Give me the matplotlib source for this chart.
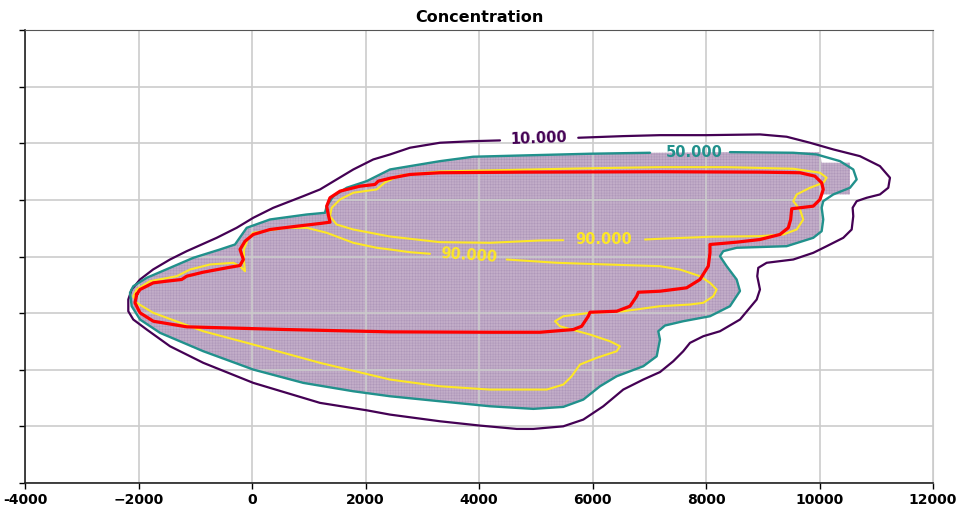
import numpy as np
import matplotlib
matplotlib.use("Agg")
import matplotlib.pyplot as plt

plt.rcParams['hatch.linewidth'] = 0.3

# contour paths (data units), label gaps left open
lvl10_x = [5749, 6542, 7189, 8012, 8951, 9421, 9832, 10243, 10713, 11065, 11242, 11212, 11065, 10831, 10655,
           10584, 10595, 10567, 10419, 10126, 9890, 9538, 9069, 8921, 8903, 8951, 8893, 8599, 8246, 7952,
           7718, 7599, 7423, 7189, 6895, 6542, 6190, 5838, 5485, 4957, 4664, 4017, 3313, 2432, 2021,
           1198, 23, -858, -1445, -1855, -2092, -2180, -2180, -2120, -1973, -1744, -1445, -1151, -622, -270,
           23, 375, 904, 1198, 1492, 1785, 2137, 2432, 2784, 3313, 3899, 4370]
lvl10_y = [2097, 2126, 2143, 2143, 2156, 2115, 2009, 1891, 1772, 1596, 1391, 1214, 1096, 1037, 977,
           861, 712, 477, 330, 182, 65, -53, -111, -200, -348, -583, -760, -1113, -1320, -1408,
           -1525, -1673, -1850, -2041, -2173, -2350, -2645, -2880, -2999, -3045, -3045, -2986, -2910, -2792, -2716,
           -2585, -2232, -1878, -1585, -1290, -1113, -967, -760, -583, -406, -230, -53, 94, 330, 507,
           684, 860, 1066, 1184, 1361, 1537, 1714, 1802, 1921, 2009, 2037, 2050]

lvl50_x = [8422, 9538, 9950, 10361, 10595, 10655, 10537, 10243, 10066, 10038, 10066, 10038, 9890, 9421, 8540,
           8304, 8246, 8364, 8540, 8599, 8422, 8070, 7599, 7277, 7159, 7189, 7131, 6895, 6426, 6132,
           5838, 5485, 4957, 4194, 3313, 2432, 1785, 904, 23, -858, -1621, -1973, -2120, -2150, -2092,
           -1855, -1445, -1034, -564, -300, -93, 317, 964, 1286, 1316, 1433, 1669, 2021, 2432, 2784,
           3313, 3899, 4780, 5956, 7013]
lvl50_y = [1843, 1832, 1802, 1684, 1537, 1361, 1214, 1096, 977, 861, 654, 447, 330, 182, 154,
           94, 5, -171, -406, -610, -878, -1055, -1143, -1219, -1320, -1467, -1762, -1938, -2115, -2292,
           -2527, -2656, -2691, -2645, -2557, -2468, -2380, -2232, -1997, -1673, -1348, -1113, -878, -641, -525,
           -376, -200, -23, 124, 212, 507, 654, 742, 772, 889, 1066, 1214, 1331, 1537, 1596,
           1684, 1762, 1785, 1815, 1832]

# right edge of the shaded cells, then it follows the 50 contour
shade_edge_x = [8422, 10008, 10038, 10537, 10537, 10038, 10038]
shade_edge_y = [1843, 1843, 1655, 1655, 1096, 1096, 447]

lvl90a_x = [4488, 5369, 6250, 7189, 7541, 7894, 8070, 8188, 8128, 7952, 7718, 7189, 6542, 5956, 5485,
            5339, 5427, 5633, 5956, 6308, 6484, 6426, 6074, 5779, 5633, 5485, 5193, 4194, 3313, 2432,
            1198, 23, -858, -1739, -2032, -2092, -2032, -1797, -1327, -1092, -740, -329, -211, -123, -141,
            -141, -70, 23, 611, 964, 1316, 1785, 2197, 2432, 2784, 3136]
lvl90a_y = [-53, -111, -141, -171, -230, -348, -465, -583, -702, -818, -848, -878, -967, -995, -1055,
            -1143, -1232, -1290, -1378, -1497, -1585, -1673, -1790, -1908, -2115, -2262, -2350, -2350, -2292, -2173,
            -1878, -1555, -1320, -995, -818, -702, -583, -436, -348, -230, -141, -111, -171, -260, -88,
            124, 318, 419, 507, 507, 419, 242, 154, 124, 76, 48]

lvl90b_x = [6925, 7189, 8070, 8951, 9362, 9598, 9714, 9656, 9538, 9598, 9832, 10066, 10126, 10008, 9538,
            8364, 7189, 5779, 4370, 3313, 2608, 2343, 2197, 1785, 1551, 1404, 1374, 1492, 1785, 2432,
            3313, 4194, 5075, 5485]
lvl90b_y = [300, 313, 348, 359, 389, 477, 654, 830, 977, 1096, 1214, 1302, 1391, 1479, 1550,
            1578, 1578, 1555, 1525, 1502, 1431, 1308, 1184, 1126, 1007, 861, 712, 565, 477, 353,
            253, 242, 283, 288]

red_x = [-2032, -1973, -1739, -1503, -1239, -1151, -858, -446, -211, -153, -211, -123, 23, 317, 788,
         1198, 1374, 1344, 1316, 1374, 1551, 1903, 2167, 2225, 2432, 2784, 3313, 4780, 7189, 8951,
         9656, 9920, 10038, 10066, 10008, 9890, 9656, 9510, 9492, 9450, 9303, 8951, 8540, 8070, 8070,
         8040, 7894, 7659, 7189, 6807, 6778, 6660, 6426, 5956, 5926, 5809, 5661, 5075, 4194, 2432,
         611, -1151, -1739, -1973, -2062]
red_y = [-671, -583, -465, -436, -406, -348, -277, -200, -159, -53, 124, 270, 389, 477, 535,
         583, 606, 742, 889, 1037, 1154, 1242, 1272, 1331, 1382, 1449, 1479, 1490, 1497, 1490,
         1479, 1419, 1302, 1184, 1007, 889, 861, 843, 654, 507, 389, 300, 253, 212, 65,
         -171, -406, -553, -613, -631, -702, -878, -967, -984, -1055, -1232, -1290, -1338, -1338, -1331,
         -1290, -1242, -1143, -995, -818]

# contour labels: text, x, y, rotation
label_text = ['10.000', '50.000', '90.000', '90.000']
label_x = [5057, 7788, 6202, 3824]
label_y = [2085, 1838, 300, 10]
label_rot = [2, 0, 0, -4]
label_col = ['#440154', '#21918c', '#fde725', '#fde725']

xticks = [-4000, -2000, 0, 2000, 4000, 6000, 8000, 10000, 12000]
xticklabels = ['-4000', '\u22122000', '0', '2000', '4000', '6000', '8000', '10000', '12000']
yticks = [-4000, -3000, -2000, -1000, 0, 1000, 2000, 3000, 4000]

fig = plt.figure(figsize=(9.57, 5.08), dpi=100)
ax = fig.add_axes([25 / 957, 25 / 508, 908 / 957, 453 / 508])

# shaded cells
sx = shade_edge_x + lvl50_x[12:]
sy = shade_edge_y + lvl50_y[12:]
ax.fill(sx, sy, facecolor=(0.267, 0.004, 0.329, 0.32), edgecolor='#ab93b7',
        linewidth=0, hatch='++++++', zorder=1)

line_kw = dict(solid_joinstyle='round', solid_capstyle='round', zorder=3)
ax.plot(lvl10_x, lvl10_y, color='#440154', lw=1.6, **line_kw)
ax.plot(lvl50_x, lvl50_y, color='#21918c', lw=1.7, **line_kw)
ax.plot(lvl90a_x, lvl90a_y, color='#fde725', lw=1.5, **line_kw)
ax.plot(lvl90b_x, lvl90b_y, color='#fde725', lw=1.5, **line_kw)
ax.plot(red_x + red_x[:1], red_y + red_y[:1], color='red', lw=2.3,
        solid_joinstyle='round', zorder=4)

for t, x, y, r, c in zip(label_text, label_x, label_y, label_rot, label_col):
    ax.text(x, y, t, color=c, fontsize=10.5, fontweight='bold', rotation=r,
            rotation_mode='anchor', ha='center', va='center', zorder=5)

ax.set_xlim(-4000, 12000)
ax.set_ylim(-4000, 4000)
ax.set_xticks(xticks, labels=xticklabels)
ax.set_yticks(yticks, labels=[''] * len(yticks))
ax.tick_params(labelsize=10, length=4, width=1)
for lab in ax.get_xticklabels():
    lab.set_fontweight('bold')
ax.grid(True, color='#cccccc', lw=1.2)
for s in ['left', 'bottom']:
    ax.spines[s].set_color('#222222')
    ax.spines[s].set_linewidth(1.2)
ax.spines['top'].set_color('#555555')
ax.spines['right'].set_color('#cccccc')
ax.set_title('Concentration', fontsize=11.5, fontweight='bold', pad=6)

fig.savefig('out.png', dpi=100)
